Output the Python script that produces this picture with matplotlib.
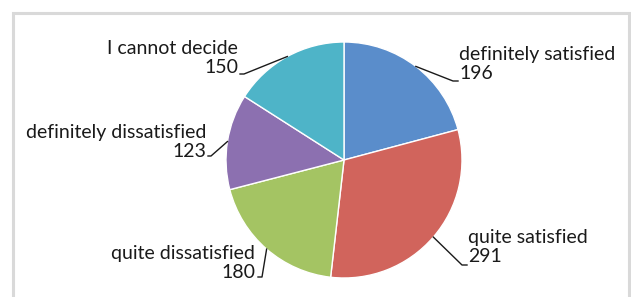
import numpy as np
import matplotlib
matplotlib.use("Agg")
import matplotlib.pyplot as plt
from matplotlib.patches import Rectangle

# Data
labels = ["definitely satisfied", "quite satisfied", "quite dissatisfied",
          "definitely dissatisfied", "I cannot decide"]
values = [196, 291, 180, 123, 150]
colors = ["#5A8DCB", "#D1645C", "#A4C463", "#8C70B0", "#4EB4C8"]

W, H = 631, 297

def Y(py):
    # pixel row -> data y
    return H - py

# label layout: text anchor (px), alignment, leader knee, leader end
label_pos = [
    dict(xy=(459, 64), ha="left", knee=(453, 81), end=(458, 81)),
    dict(xy=(468, 247), ha="left", knee=(462, 265), end=(467, 265)),
    dict(xy=(255, 263), ha="right", knee=(262, 277), end=(258, 277)),
    dict(xy=(206, 142), ha="right", knee=(211, 156), end=(208, 156)),
    dict(xy=(238, 58), ha="right", knee=(244, 74), end=(240, 74)),
]

fig = plt.figure(figsize=(W / 100, H / 100), dpi=100)
ax = fig.add_axes([0, 0, 1, 1])

cx, cy, r = 344, Y(160), 118
wedges, _ = ax.pie(values, colors=colors, startangle=90, counterclock=False,
                   center=(cx, cy), radius=r,
                   wedgeprops=dict(edgecolor="white", linewidth=1))

ax.set_xlim(0, W)
ax.set_ylim(0, H)
ax.set_aspect("equal")
ax.axis("off")

# chart frame
ax.add_patch(Rectangle((12.5, -5), 616, Y(12.5) + 5, fill=False,
                       edgecolor="#d9d9d9", linewidth=2.2))

for w, name, val, lp in zip(wedges, labels, values, label_pos):
    mid = np.deg2rad((w.theta1 + w.theta2) / 2)
    ex, ey = cx + r * np.cos(mid), cy + r * np.sin(mid)
    kx, ky = lp["knee"]
    nx, ny = lp["end"]
    ax.plot([ex, kx, nx], [ey, Y(ky), Y(ny)], color="#1a1a1a", lw=1)
    ax.text(lp["xy"][0], Y(lp["xy"][1]), f"{name}\n{val}", ha=lp["ha"],
            va="center", multialignment=lp["ha"], fontsize=14,
            family="Lato", color="#1a1a1a", linespacing=1.1)

fig.savefig("out.png", dpi=100)
